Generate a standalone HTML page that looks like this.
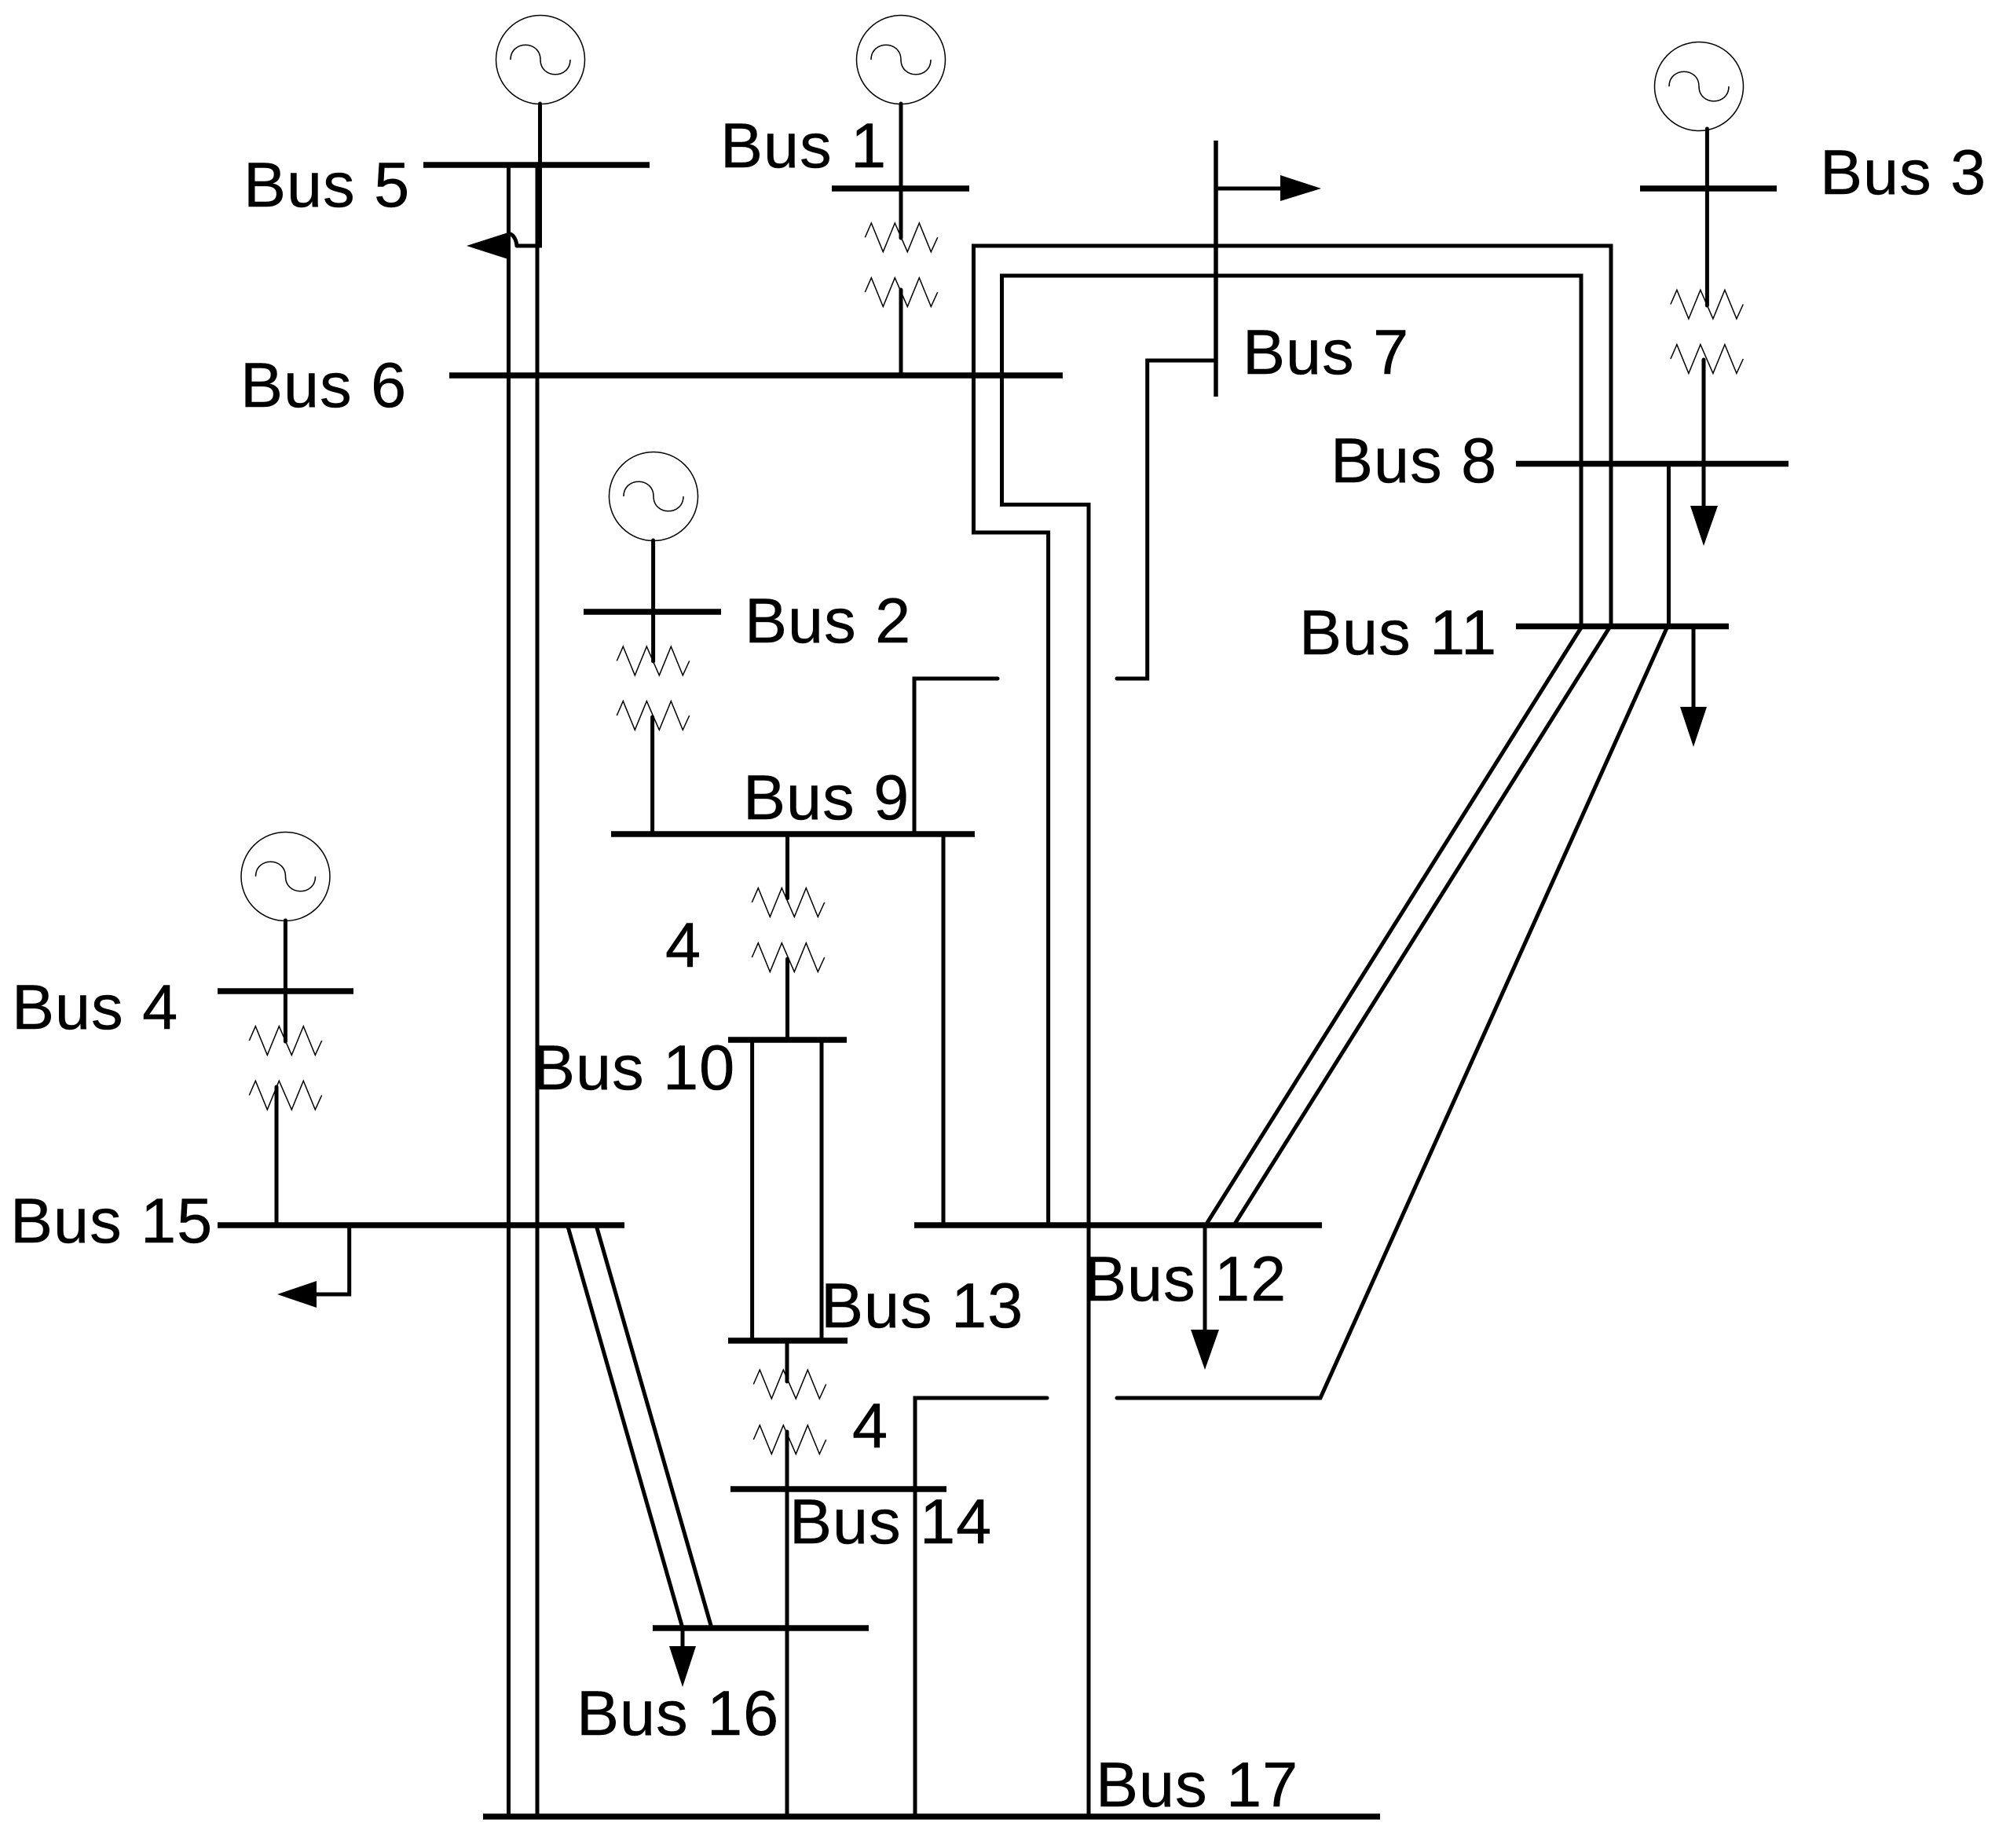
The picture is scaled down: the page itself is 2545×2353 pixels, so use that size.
<!DOCTYPE html>
<html><head><meta charset="utf-8"><style>
html,body{margin:0;padding:0;background:#fff}
svg{display:block}
text{font-family:"Liberation Sans",Arial,sans-serif;font-size:81px;letter-spacing:1px;fill:#000;stroke:#000;stroke-width:.5px}
.b{stroke:#000;stroke-width:7.5;stroke-linecap:butt;fill:none}
.l{stroke:#000;stroke-width:5;fill:none;stroke-linecap:round;stroke-linejoin:miter}
.t{stroke:#000;stroke-width:1.5;fill:none}
.a{fill:#000}
</style></head><body>
<svg width="2545" height="2353" viewBox="0 0 2545 2353" xmlns="http://www.w3.org/2000/svg">
<defs>
<g id="gen" class="t"><circle r="56.5"/><path d="M-38,0C-38,-25 0,-25 0,0C0,25 38,25 38,0"/></g>
<path id="coil" class="t" d="M-45.7,0L-37.7,-18.3L-22.7,18.4L-7.7,-18.3L8.3,18.4L23.3,-18.3L38.3,18.4L46.7,0"/>
</defs>
<rect width="2545" height="2353" fill="#fff"/>

<!-- generators -->
<use href="#gen" x="688" y="76"/>
<use href="#gen" x="1147" y="76"/>
<use href="#gen" x="2163" y="110"/>
<use href="#gen" x="832" y="632"/>
<use href="#gen" x="363.5" y="1116"/>

<!-- transformer coils -->
<use href="#coil" x="1147" y="302.3"/><use href="#coil" x="1147" y="372"/>
<use href="#coil" x="2172.6" y="387.5"/><use href="#coil" x="2172.6" y="457"/>
<use href="#coil" x="831" y="841.5"/><use href="#coil" x="831" y="911"/>
<use href="#coil" x="363" y="1325"/><use href="#coil" x="363" y="1394.5"/>
<use href="#coil" x="1003" y="1149"/><use href="#coil" x="1003" y="1219"/>
<use href="#coil" x="1005" y="1762.5"/><use href="#coil" x="1005" y="1833"/>

<!-- buses -->
<path class="b" d="M539,210H827"/>
<path class="b" d="M1059,240H1234"/>
<path class="b" d="M2088,240H2262"/>
<path class="b" d="M572,478H1353"/>
<path class="b" d="M1930,590.5H2277"/>
<path class="b" d="M1930,797.5H2201"/>
<path class="b" d="M743,779H918"/>
<path class="b" d="M778,1062H1241"/>
<path class="b" d="M277,1262H450"/>
<path class="b" d="M927,1324H1078"/>
<path class="b" d="M277,1560H795"/>
<path class="b" d="M1164,1560H1683"/>
<path class="b" d="M927,1707H1079"/>
<path class="b" d="M930,1896H1205"/>
<path class="b" d="M831,2073H1106"/>
<path class="b" d="M615,2313H1757"/>
<path class="b" style="stroke-width:5.5" d="M1548,179V505"/>

<!-- generator stems -->
<path class="l" d="M687.5,132V313H658"/>
<path class="l" d="M658,313C657,303 652,297 647,298"/>
<path class="l" d="M1147,132V303"/><path class="l" d="M1147,369V478"/>
<path class="l" d="M2173.4,164V389"/><path class="l" d="M2169,458V650"/>
<path class="l" d="M831.6,688V842"/><path class="l" d="M830.6,913V1062"/>
<path class="l" d="M363.4,1172V1326"/><path class="l" d="M352,1384V1560"/>
<path class="l" d="M1002.5,1062V1143.6"/><path class="l" d="M1002.5,1221V1324"/>
<path class="l" d="M1002,1707V1759"/><path class="l" d="M1002,1823V2313"/>

<!-- lines -->
<path class="l" d="M647.5,210V2313"/>
<path class="l" d="M684,210V2313"/>
<path class="l" d="M1334.6,1560V678H1239.5V313H2051V797.5"/>
<path class="l" d="M1386,2313V642.5H1275.5V351H2013V797.5"/>
<path class="l" d="M1548,459H1460.7V864H1422"/>
<path class="l" d="M1270,864H1164V1062"/>
<path class="l" d="M1201,1062V1560"/>
<path class="l" d="M957.6,1324V1707"/>
<path class="l" d="M1046,1324V1707"/>
<path class="l" d="M2124.5,590.5V797.5"/>
<path class="l" d="M2014,797.5L1535,1560"/>
<path class="l" d="M2050,797.5L1571,1560"/>
<path class="l" d="M2123,797.5L1681,1780H1422"/>
<path class="l" d="M1333,1780H1165V2313"/>
<path class="l" d="M722.5,1560L869,2073"/>
<path class="l" d="M759,1560L906,2073"/>

<!-- loads -->
<polygon class="a" points="594,313 647,296 647,330"/>
<path class="l" d="M1548,240H1640"/><polygon class="a" points="1682,240 1630,223 1630,256"/>
<polygon class="a" points="2169,695 2152,644 2187,644"/>
<path class="l" d="M2156,797.5V910"/><polygon class="a" points="2156,951 2139,900 2173,900"/>
<path class="l" d="M444.7,1560V1648H400"/><polygon class="a" points="353,1648 403,1631 403,1665"/>
<path class="l" d="M1534,1560V1700"/><polygon class="a" points="1534,1744 1516,1693 1552,1693"/>
<path class="l" d="M869,2073V2105"/><polygon class="a" points="869,2148 852,2096 886,2096"/>

<!-- labels -->
<text x="310" y="263">Bus 5</text>
<text x="917" y="213">Bus 1</text>
<text x="306" y="518">Bus 6</text>
<text x="2317" y="247">Bus 3</text>
<text x="1582" y="476">Bus 7</text>
<text x="1694" y="614">Bus 8</text>
<text x="1654" y="833">Bus 11</text>
<text x="948" y="818">Bus 2</text>
<text x="946" y="1043">Bus 9</text>
<text x="847" y="1231">4</text>
<text x="15" y="1310">Bus 4</text>
<text x="678" y="1387">Bus 10</text>
<text x="13" y="1582">Bus 15</text>
<text x="1045" y="1690">Bus 13</text>
<text x="1380" y="1656">Bus 12</text>
<text x="1085" y="1843">4</text>
<text x="1005" y="1965">Bus 14</text>
<text x="734" y="2209">Bus 16</text>
<text x="1395" y="2300">Bus 17</text>
</svg>
</body></html>
